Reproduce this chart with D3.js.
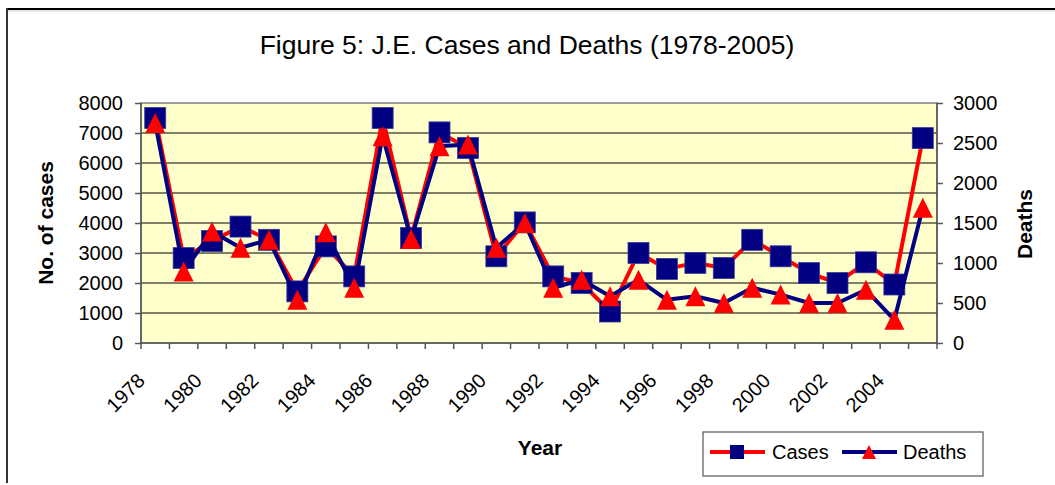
<!DOCTYPE html>
<html>
<head>
<meta charset="utf-8">
<script src="https://cdn.jsdelivr.net/npm/d3@7"></script>
<style>
  body { margin: 0; background: #fff; }
  svg { display: block; font-family: Arial, "Liberation Sans", sans-serif; }
</style>
</head>
<body>
<div id="chart"></div>
<script>
var years = [1978, 1979, 1980, 1981, 1982, 1983, 1984, 1985, 1986, 1987, 1988, 1989, 1990, 1991,
             1992, 1993, 1994, 1995, 1996, 1997, 1998, 1999, 2000, 2001, 2002, 2003, 2004, 2005];
var cases = [7500, 2830, 3400, 3880, 3440, 1720, 3220, 2220, 7500, 3500, 7020, 6500, 2890, 4020,
             2220, 2000, 1050, 3000, 2470, 2670, 2500, 3440, 2890, 2330, 2000, 2690, 1950, 6830];
var deaths = [2750, 895, 1395, 1190, 1290, 540, 1385, 690, 2585, 1300, 2460, 2480, 1190, 1500,
              690, 790, 585, 790, 540, 585, 500, 690, 605, 500, 500, 665, 290, 1690];
var casesTicks = [0, 1000, 2000, 3000, 4000, 5000, 6000, 7000, 8000];
var deathsTicks = [0, 500, 1000, 1500, 2000, 2500, 3000];

var width = 1055, height = 485;
var plot = {left: 141, right: 937, top: 103, bottom: 343};

var svg = d3.select("#chart").append("svg")
  .attr("width", width)
  .attr("height", height);

// outer frame (chart sits inside a document page)
svg.append("line").attr("x1", 6).attr("x2", width).attr("y1", 9).attr("y2", 9)
  .attr("stroke", "#000").attr("stroke-width", 2);
svg.append("line").attr("x1", 8).attr("x2", width).attr("y1", 11).attr("y2", 11)
  .attr("stroke", "#ccc").attr("stroke-width", 1);
svg.append("line").attr("x1", 7).attr("x2", 7).attr("y1", 8).attr("y2", 483)
  .attr("stroke", "#333").attr("stroke-width", 2);

svg.append("text")
  .attr("x", 527).attr("y", 54)
  .attr("text-anchor", "middle")
  .attr("font-size", 26.5)
  .text("Figure 5: J.E. Cases and Deaths (1978-2005)");

var x = d3.scaleBand().domain(years).range([plot.left, plot.right]).padding(0);
var y = d3.scaleLinear().domain([0, 8000]).range([plot.bottom, plot.top]);
var y2 = d3.scaleLinear().domain([0, 3000]).range([plot.bottom, plot.top]);

svg.append("rect")
  .attr("x", plot.left).attr("y", plot.top)
  .attr("width", plot.right - plot.left).attr("height", plot.bottom - plot.top)
  .attr("fill", "#FFFFCC").attr("stroke", "#808080").attr("stroke-width", 1.5);

// gridlines
svg.append("g").selectAll("line")
  .data(casesTicks.filter(function(d) { return d > 0 && d < 8000; }))
  .enter().append("line")
  .attr("x1", plot.left).attr("x2", plot.right)
  .attr("y1", function(d) { return y(d); }).attr("y2", function(d) { return y(d); })
  .attr("stroke", "#000").attr("stroke-width", 1);

// left axis
var yAxis = d3.axisLeft(y).tickValues(casesTicks).tickFormat(d3.format("d")).tickSize(6).tickPadding(12);
var gY = svg.append("g").attr("transform", "translate(" + plot.left + ",0)").call(yAxis);
gY.selectAll("text").attr("font-size", 20).attr("fill", "#000").attr("font-family", null);
gY.selectAll("line, path").attr("stroke", "#555").attr("stroke-width", 1.5);
gY.select(".domain").attr("d", "M0," + plot.top + "V" + plot.bottom);

// right axis
var y2Axis = d3.axisRight(y2).tickValues(deathsTicks).tickFormat(d3.format("d")).tickSize(6).tickPadding(10);
var gY2 = svg.append("g").attr("transform", "translate(" + plot.right + ",0)").call(y2Axis);
gY2.selectAll("text").attr("font-size", 20).attr("fill", "#000").attr("font-family", null);
gY2.selectAll("line, path").attr("stroke", "#555").attr("stroke-width", 1.5);
gY2.select(".domain").attr("d", "M0," + plot.top + "V" + plot.bottom);

// bottom axis: ticks at category boundaries, labels every other year
var bounds = years.map(function(d) { return x(d); }).concat([plot.right]);
var gX = svg.append("g");
gX.append("line").attr("x1", plot.left).attr("x2", plot.right)
  .attr("y1", plot.bottom).attr("y2", plot.bottom)
  .attr("stroke", "#555").attr("stroke-width", 1.5);
gX.selectAll(".tk").data(bounds).enter().append("line")
  .attr("x1", function(d) { return d; }).attr("x2", function(d) { return d; })
  .attr("y1", plot.bottom).attr("y2", plot.bottom + 6)
  .attr("stroke", "#555").attr("stroke-width", 1.5);
gX.selectAll(".lbl").data(years.filter(function(d, i) { return i % 2 === 0; }))
  .enter().append("text")
  .attr("text-anchor", "end")
  .attr("font-size", 20)
  .attr("transform", function(d) {
    return "translate(" + (x(d) + x.bandwidth() / 2 - 9) + "," + (plot.bottom + 39) + ") rotate(-45)";
  })
  .text(function(d) { return d; });

// axis titles
svg.append("text")
  .attr("transform", "translate(53," + ((plot.top + plot.bottom) / 2) + ") rotate(-90)")
  .attr("text-anchor", "middle").attr("font-weight", "bold").attr("font-size", 21)
  .text("No. of cases");
svg.append("text")
  .attr("transform", "translate(1032," + 224 + ") rotate(-90)")
  .attr("text-anchor", "middle").attr("font-weight", "bold").attr("font-size", 21)
  .text("Deaths");
svg.append("text")
  .attr("x", 540).attr("y", 455)
  .attr("text-anchor", "middle").attr("font-weight", "bold").attr("font-size", 21)
  .text("Year");

var cx = function(d, i) { return x(years[i]) + x.bandwidth() / 2; };
var triPath = "M0,-10L10,10L-10,10Z";

// Cases series: red line, navy squares
svg.append("path")
  .datum(cases)
  .attr("fill", "none").attr("stroke", "#FF0000").attr("stroke-width", 4)
  .attr("stroke-linejoin", "round")
  .attr("d", d3.line().x(cx).y(function(d) { return y(d); }));
svg.append("g").selectAll("rect").data(cases).enter().append("rect")
  .attr("x", function(d, i) { return cx(d, i) - 10.5; })
  .attr("y", function(d) { return y(d) - 10.5; })
  .attr("width", 21).attr("height", 21)
  .attr("fill", "#000080").attr("stroke", "#3a3a9a").attr("stroke-width", 0.8);

// Deaths series: navy line, red triangles
svg.append("path")
  .datum(deaths)
  .attr("fill", "none").attr("stroke", "#000080").attr("stroke-width", 4)
  .attr("stroke-linejoin", "round")
  .attr("d", d3.line().x(cx).y(function(d) { return y2(d); }));
svg.append("g").selectAll("path").data(deaths).enter().append("path")
  .attr("transform", function(d, i) { return "translate(" + cx(d, i) + "," + y2(d) + ")"; })
  .attr("d", triPath)
  .attr("fill", "#FF0000");

// legend
var lg = svg.append("g").attr("transform", "translate(703,432)");
lg.append("rect").attr("width", 280).attr("height", 44)
  .attr("fill", "#fff").attr("stroke", "#555").attr("stroke-width", 1.2);
lg.append("line").attr("x1", 7).attr("x2", 62).attr("y1", 20).attr("y2", 20)
  .attr("stroke", "#FF0000").attr("stroke-width", 4);
lg.append("rect").attr("x", 27).attr("y", 13).attr("width", 14).attr("height", 14)
  .attr("fill", "#000080");
lg.append("text").attr("x", 69).attr("y", 27).attr("font-size", 20).text("Cases");
lg.append("line").attr("x1", 139).attr("x2", 194).attr("y1", 20).attr("y2", 20)
  .attr("stroke", "#000080").attr("stroke-width", 4);
lg.append("path").attr("transform", "translate(166,20)").attr("d", "M0,-7L7,7L-7,7Z")
  .attr("fill", "#FF0000");
lg.append("text").attr("x", 200).attr("y", 27).attr("font-size", 20).text("Deaths");
</script>
</body>
</html>
